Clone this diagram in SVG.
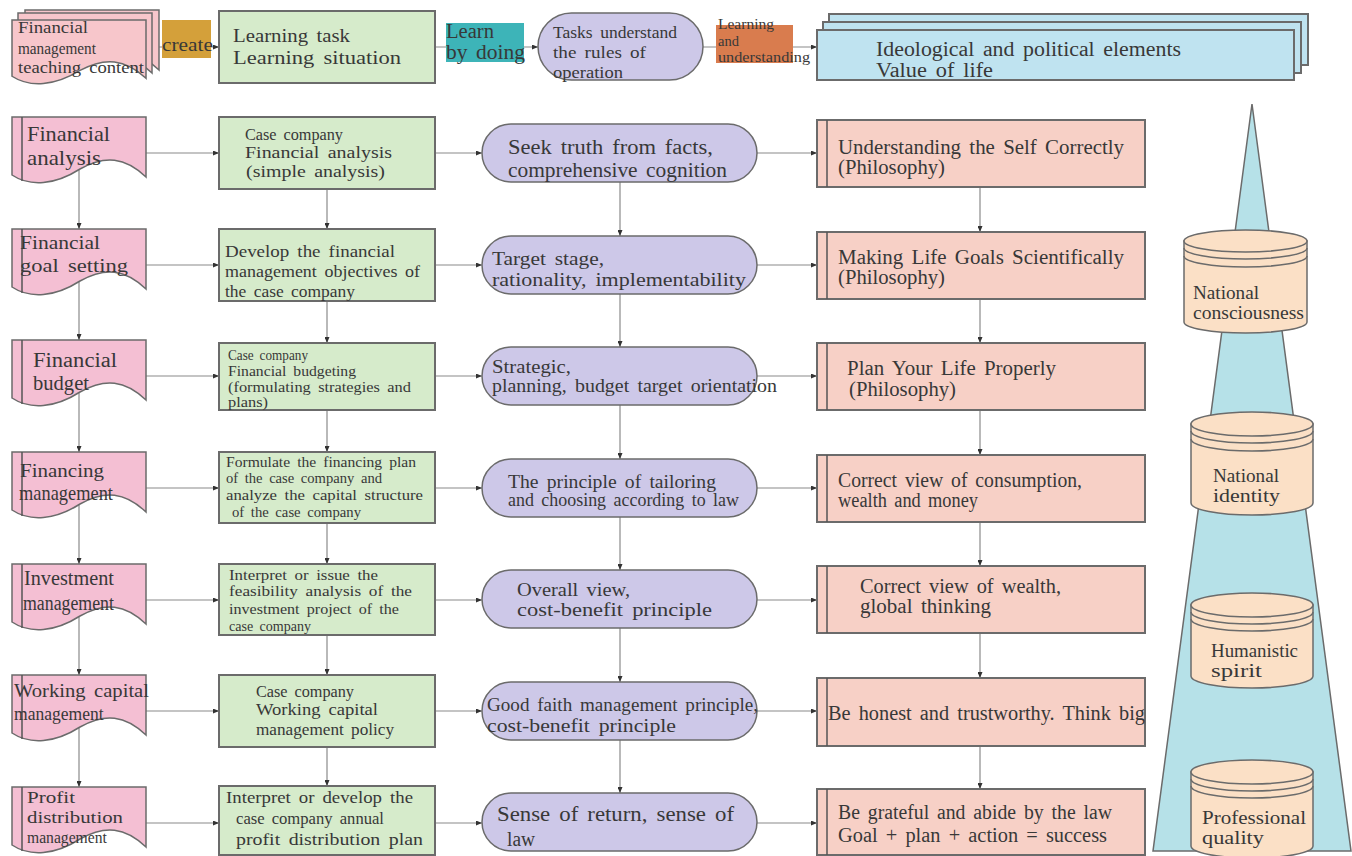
<svg xmlns="http://www.w3.org/2000/svg" width="1352" height="856" viewBox="0 0 1352 856">
<defs>
<marker id="a" markerWidth="6" markerHeight="5" refX="6" refY="2.5" orient="auto" markerUnits="userSpaceOnUse"><path d="M0,0 L6,2.5 L0,5 z" fill="#333"/></marker>
<path id="docshape" d="M0,0 H134 V60 C113,40 93,38 68,52 C43,68 18,70 0,58 Z"/>
</defs>
<style>
.doc{fill:#F4BFD3;stroke:#6b6b6b;stroke-width:1.5}
.doct{fill:#F7C6CB;stroke:#6b6b6b;stroke-width:1.5}
.g{fill:#D6EBCB;stroke:#6b6b6b;stroke-width:2}
.p{fill:#CDC8E8;stroke:#6b6b6b;stroke-width:1.5}
.s{fill:#F7D0C6;stroke:#6b6b6b;stroke-width:2}
.bl{fill:#BFE3F0;stroke:#6b6b6b;stroke-width:2}
.cyl{fill:#FBE0C6;stroke:#6b6b6b;stroke-width:1.5}
.ring{fill:none;stroke:#6b6b6b;stroke-width:1.5}
.in{stroke:#555;stroke-width:1.5;fill:none}
.c{stroke:#8a8a8a;stroke-width:1.2;fill:none;marker-end:url(#a)}
text{font-family:"Liberation Serif",serif;fill:#383838;word-spacing:3px}
</style>
<rect width="1352" height="856" fill="#fff"/>

<g id="cone"><polygon points="1252,104 1351,851 1153,851" fill="#B6E1E8" stroke="#6b6b6b" stroke-width="1.5"/></g>

<g id="connectors">
<path class="c" d="M146,47 H219"/>
<path class="c" d="M435,47 H538"/>
<path class="c" d="M703,47 H817"/>
<path class="c" d="M146,153 H219"/><path class="c" d="M435,153 H482"/><path class="c" d="M757,153 H817"/>
<path class="c" d="M146,265 H219"/><path class="c" d="M435,265 H482"/><path class="c" d="M757,265 H817"/>
<path class="c" d="M146,376 H219"/><path class="c" d="M435,376 H482"/><path class="c" d="M757,376 H817"/>
<path class="c" d="M146,488 H219"/><path class="c" d="M435,488 H482"/><path class="c" d="M757,488 H817"/>
<path class="c" d="M146,600 H219"/><path class="c" d="M435,600 H482"/><path class="c" d="M757,600 H817"/>
<path class="c" d="M146,711 H219"/><path class="c" d="M435,711 H482"/><path class="c" d="M757,711 H817"/>
<path class="c" d="M146,823 H219"/><path class="c" d="M435,823 H482"/><path class="c" d="M757,823 H817"/>
<path class="c" d="M79,167 V229"/><path class="c" d="M79,279 V340"/><path class="c" d="M79,390 V452"/><path class="c" d="M79,502 V564"/><path class="c" d="M79,614 V675"/><path class="c" d="M79,725 V787"/>
<path class="c" d="M327,189 V229"/><path class="c" d="M327,301 V343"/><path class="c" d="M327,410 V452"/><path class="c" d="M327,523 V564"/><path class="c" d="M327,635 V675"/><path class="c" d="M327,747 V786"/>
<path class="c" d="M620,182 V236"/><path class="c" d="M620,294 V347"/><path class="c" d="M620,405 V459"/><path class="c" d="M620,517 V570"/><path class="c" d="M620,628 V682"/><path class="c" d="M620,740 V793"/>
<path class="c" d="M980,187 V232"/><path class="c" d="M980,299 V343"/><path class="c" d="M980,410 V455"/><path class="c" d="M980,522 V566"/><path class="c" d="M980,633 V678"/><path class="c" d="M980,746 V789"/>
</g>

<g id="top-doc">
<use href="#docshape" class="doct" transform="translate(25,10)"/>
<use href="#docshape" class="doct" transform="translate(18,13)"/>
<use href="#docshape" class="doct" transform="translate(12,20) scale(1,0.97)"/>
<text x="18" y="33" font-size="16.5" textLength="70" lengthAdjust="spacingAndGlyphs">Financial</text>
<text transform="translate(18,54) scale(0.925,1)" font-size="16.5">management</text>
<text x="18" y="73" font-size="16.5" textLength="126" lengthAdjust="spacingAndGlyphs">teaching content</text>
</g>
<g id="lbl-create"><rect x="162" y="20" width="49" height="38" fill="#D4A03A"/>
<text x="162" y="51" font-size="18" textLength="51" lengthAdjust="spacingAndGlyphs">create</text></g>
<g id="top-task"><rect class="g" x="219" y="11" width="216" height="72"/>
<text x="233" y="42" font-size="19.5" textLength="117" lengthAdjust="spacingAndGlyphs">Learning task</text>
<text x="233" y="64" font-size="19.5" textLength="168" lengthAdjust="spacingAndGlyphs">Learning situation</text></g>
<g id="lbl-learn"><rect x="446" y="23" width="78" height="39" fill="#3DB4B8"/>
<text x="446" y="38" font-size="20" textLength="48" lengthAdjust="spacingAndGlyphs">Learn</text>
<text x="446" y="59" font-size="20" textLength="79" lengthAdjust="spacingAndGlyphs">by doing</text></g>
<g id="top-rules"><rect class="p" x="538" y="13" width="165" height="67" rx="33.5"/>
<text x="553" y="38" font-size="16.8" textLength="124" lengthAdjust="spacingAndGlyphs">Tasks understand</text>
<text x="553" y="58" font-size="16.8" textLength="93" lengthAdjust="spacingAndGlyphs">the rules of</text>
<text x="553" y="78" font-size="16.8" textLength="70" lengthAdjust="spacingAndGlyphs">operation</text></g>
<g id="lbl-understand"><rect x="716" y="25" width="77" height="38" fill="#D97C4E"/>
<text x="718" y="29" font-size="15" textLength="56" lengthAdjust="spacingAndGlyphs">Learning</text>
<text x="718" y="46" font-size="15" textLength="21" lengthAdjust="spacingAndGlyphs">and</text>
<text x="718" y="62" font-size="15" textLength="92" lengthAdjust="spacingAndGlyphs">understanding</text></g>
<g id="top-values">
<rect class="bl" x="829" y="14" width="479" height="51"/>
<rect class="bl" x="823" y="22" width="478" height="51"/>
<rect class="bl" x="817" y="30" width="477" height="50"/>
<text x="876" y="56" font-size="20.5" textLength="305" lengthAdjust="spacingAndGlyphs">Ideological and political elements</text>
<text x="876" y="77" font-size="20.5" textLength="117" lengthAdjust="spacingAndGlyphs">Value of life</text></g>

<g id="d1"><use href="#docshape" class="doc" transform="translate(12,117)"/><path class="in" d="M22,117 V181"/>
<text x="27" y="141" font-size="21" textLength="83" lengthAdjust="spacingAndGlyphs">Financial</text>
<text x="27" y="165" font-size="21" textLength="74" lengthAdjust="spacingAndGlyphs">analysis</text></g>
<g id="d2"><use href="#docshape" class="doc" transform="translate(12,229)"/><path class="in" d="M22,229 V293"/>
<text x="20" y="249" font-size="19.5" textLength="80" lengthAdjust="spacingAndGlyphs">Financial</text>
<text x="20" y="272" font-size="19.5" textLength="108" lengthAdjust="spacingAndGlyphs">goal setting</text></g>
<g id="d3"><use href="#docshape" class="doc" transform="translate(12,340)"/><path class="in" d="M22,340 V404"/>
<text x="33" y="367" font-size="20" textLength="84" lengthAdjust="spacingAndGlyphs">Financial</text>
<text x="33" y="390" font-size="20" textLength="56" lengthAdjust="spacingAndGlyphs">budget</text></g>
<g id="d4"><use href="#docshape" class="doc" transform="translate(12,452)"/><path class="in" d="M22,452 V516"/>
<text x="20" y="477" font-size="19" textLength="84" lengthAdjust="spacingAndGlyphs">Financing</text>
<text transform="translate(19,500) scale(0.92,1)" font-size="20">management</text></g>
<g id="d5"><use href="#docshape" class="doc" transform="translate(12,564)"/><path class="in" d="M22,564 V628"/>
<text x="24" y="585" font-size="20" textLength="90" lengthAdjust="spacingAndGlyphs">Investment</text>
<text transform="translate(23,610) scale(0.89,1)" font-size="20">management</text></g>
<g id="d6"><use href="#docshape" class="doc" transform="translate(12,675)"/><path class="in" d="M22,675 V739"/>
<text x="14" y="697" font-size="19" textLength="135" lengthAdjust="spacingAndGlyphs">Working capital</text>
<text transform="translate(14,720) scale(0.9,1)" font-size="19.5">management</text></g>
<g id="d7"><use href="#docshape" class="doc" transform="translate(12,787)"/><path class="in" d="M22,787 V851"/>
<text x="27" y="803" font-size="17" textLength="48" lengthAdjust="spacingAndGlyphs">Profit</text>
<text x="27" y="823" font-size="17" textLength="96" lengthAdjust="spacingAndGlyphs">distribution</text>
<text transform="translate(27,843) scale(0.92,1)" font-size="17">management</text></g>

<g id="g1"><rect class="g" x="219" y="117" width="216" height="72"/>
<text x="245" y="140" font-size="17.4" textLength="98" lengthAdjust="spacingAndGlyphs">Case company</text>
<text x="245" y="158" font-size="17.4" textLength="147" lengthAdjust="spacingAndGlyphs">Financial analysis</text>
<text x="246" y="177" font-size="17.4" textLength="139" lengthAdjust="spacingAndGlyphs">(simple analysis)</text></g>
<g id="g2"><rect class="g" x="219" y="229" width="216" height="72"/>
<text x="225" y="257" font-size="17.2" textLength="170" lengthAdjust="spacingAndGlyphs">Develop the financial</text>
<text x="225" y="277" font-size="17.2" textLength="195" lengthAdjust="spacingAndGlyphs">management objectives of</text>
<text x="225" y="297" font-size="17.2" textLength="130" lengthAdjust="spacingAndGlyphs">the case company</text></g>
<g id="g3"><rect class="g" x="219" y="343" width="216" height="67"/>
<text x="228" y="360" font-size="15" textLength="80" lengthAdjust="spacingAndGlyphs">Case company</text>
<text x="228" y="376" font-size="15" textLength="128" lengthAdjust="spacingAndGlyphs">Financial budgeting</text>
<text x="228" y="392" font-size="15" textLength="183" lengthAdjust="spacingAndGlyphs">(formulating strategies and</text>
<text x="228" y="407" font-size="15" textLength="40" lengthAdjust="spacingAndGlyphs">plans)</text></g>
<g id="g4"><rect class="g" x="219" y="452" width="216" height="71"/>
<text x="226" y="467" font-size="15" textLength="190" lengthAdjust="spacingAndGlyphs">Formulate the financing plan</text>
<text x="226" y="483" font-size="15" textLength="156" lengthAdjust="spacingAndGlyphs">of the case company and</text>
<text x="226" y="500" font-size="15" textLength="197" lengthAdjust="spacingAndGlyphs">analyze the capital structure</text>
<text x="232" y="517" font-size="15" textLength="129" lengthAdjust="spacingAndGlyphs">of the case company</text></g>
<g id="g5"><rect class="g" x="219" y="564" width="216" height="71"/>
<text x="229" y="580" font-size="15" textLength="149" lengthAdjust="spacingAndGlyphs">Interpret or issue the</text>
<text x="229" y="596" font-size="15" textLength="183" lengthAdjust="spacingAndGlyphs">feasibility analysis of the</text>
<text x="229" y="614" font-size="15" textLength="170" lengthAdjust="spacingAndGlyphs">investment project of the</text>
<text x="229" y="631" font-size="15" textLength="82" lengthAdjust="spacingAndGlyphs">case company</text></g>
<g id="g6"><rect class="g" x="219" y="675" width="216" height="72"/>
<text x="256" y="697" font-size="17.3" textLength="98" lengthAdjust="spacingAndGlyphs">Case company</text>
<text x="256" y="715" font-size="17.3" textLength="122" lengthAdjust="spacingAndGlyphs">Working capital</text>
<text x="256" y="735" font-size="17.3" textLength="138" lengthAdjust="spacingAndGlyphs">management policy</text></g>
<g id="g7"><rect class="g" x="219" y="786" width="216" height="69"/>
<text x="226" y="803" font-size="17" textLength="187" lengthAdjust="spacingAndGlyphs">Interpret or develop the</text>
<text x="236" y="824" font-size="17" textLength="148" lengthAdjust="spacingAndGlyphs">case company annual</text>
<text x="236" y="845" font-size="17" textLength="187" lengthAdjust="spacingAndGlyphs">profit distribution plan</text></g>

<g id="p1"><rect class="p" x="482" y="124" width="275" height="58" rx="29"/>
<text x="508" y="154" font-size="20.5" textLength="205" lengthAdjust="spacingAndGlyphs">Seek truth from facts,</text>
<text x="508" y="177" font-size="20.5" textLength="219" lengthAdjust="spacingAndGlyphs">comprehensive cognition</text></g>
<g id="p2"><rect class="p" x="482" y="236" width="275" height="58" rx="29"/>
<text x="492" y="265" font-size="19.5" textLength="112" lengthAdjust="spacingAndGlyphs">Target stage,</text>
<text x="492" y="286" font-size="19.5" textLength="254" lengthAdjust="spacingAndGlyphs">rationality, implementability</text></g>
<g id="p3"><rect class="p" x="482" y="347" width="275" height="58" rx="29"/>
<text x="492" y="373" font-size="18" textLength="79" lengthAdjust="spacingAndGlyphs">Strategic,</text>
<text x="492" y="392" font-size="18" textLength="285" lengthAdjust="spacingAndGlyphs">planning, budget target orientation</text></g>
<g id="p4"><rect class="p" x="482" y="459" width="275" height="58" rx="29"/>
<text x="508" y="488" font-size="18" textLength="208" lengthAdjust="spacingAndGlyphs">The principle of tailoring</text>
<text x="508" y="506" font-size="18" textLength="231" lengthAdjust="spacingAndGlyphs">and choosing according to law</text></g>
<g id="p5"><rect class="p" x="482" y="570" width="275" height="58" rx="29"/>
<text x="517" y="596" font-size="19.5" textLength="113" lengthAdjust="spacingAndGlyphs">Overall view,</text>
<text x="517" y="616" font-size="19.5" textLength="195" lengthAdjust="spacingAndGlyphs">cost-benefit principle</text></g>
<g id="p6"><rect class="p" x="482" y="682" width="275" height="58" rx="29"/>
<text x="487" y="711" font-size="19" textLength="271" lengthAdjust="spacingAndGlyphs">Good faith management principle,</text>
<text x="487" y="732" font-size="19" textLength="189" lengthAdjust="spacingAndGlyphs">cost-benefit principle</text></g>
<g id="p7"><rect class="p" x="482" y="793" width="275" height="58" rx="29"/>
<text x="497" y="821" font-size="20.5" textLength="237" lengthAdjust="spacingAndGlyphs">Sense of return, sense of</text>
<text x="507" y="846" font-size="20.5" textLength="28" lengthAdjust="spacingAndGlyphs">law</text></g>

<g id="s1"><rect class="s" x="817" y="120" width="328" height="67"/><path class="in" d="M827,120 V187"/>
<text x="838" y="154" font-size="20.5" textLength="286" lengthAdjust="spacingAndGlyphs">Understanding the Self Correctly</text>
<text x="838" y="174" font-size="20.5" textLength="107" lengthAdjust="spacingAndGlyphs">(Philosophy)</text></g>
<g id="s2"><rect class="s" x="817" y="232" width="328" height="67"/><path class="in" d="M827,232 V299"/>
<text x="838" y="264" font-size="20.5" textLength="286" lengthAdjust="spacingAndGlyphs">Making Life Goals Scientifically</text>
<text x="838" y="284" font-size="20.5" textLength="107" lengthAdjust="spacingAndGlyphs">(Philosophy)</text></g>
<g id="s3"><rect class="s" x="817" y="343" width="328" height="67"/><path class="in" d="M827,343 V410"/>
<text x="847" y="375" font-size="20.5" textLength="209" lengthAdjust="spacingAndGlyphs">Plan Your Life Properly</text>
<text x="849" y="396" font-size="20.5" textLength="107" lengthAdjust="spacingAndGlyphs">(Philosophy)</text></g>
<g id="s4"><rect class="s" x="817" y="455" width="328" height="67"/><path class="in" d="M827,455 V522"/>
<text x="838" y="487" font-size="20" textLength="244" lengthAdjust="spacingAndGlyphs">Correct view of consumption,</text>
<text x="838" y="507" font-size="20" textLength="140" lengthAdjust="spacingAndGlyphs">wealth and money</text></g>
<g id="s5"><rect class="s" x="817" y="566" width="328" height="67"/><path class="in" d="M827,566 V633"/>
<text x="860" y="593" font-size="20" textLength="201" lengthAdjust="spacingAndGlyphs">Correct view of wealth,</text>
<text x="860" y="613" font-size="20" textLength="131" lengthAdjust="spacingAndGlyphs">global thinking</text></g>
<g id="s6"><rect class="s" x="817" y="678" width="328" height="68"/><path class="in" d="M827,678 V746"/>
<text x="828" y="720" font-size="20" textLength="317" lengthAdjust="spacingAndGlyphs">Be honest and trustworthy. Think big</text></g>
<g id="s7"><rect class="s" x="817" y="789" width="328" height="66"/><path class="in" d="M827,789 V855"/>
<text x="838" y="819" font-size="20" textLength="274" lengthAdjust="spacingAndGlyphs">Be grateful and abide by the law</text>
<text x="838" y="842" font-size="20" textLength="269" lengthAdjust="spacingAndGlyphs">Goal + plan + action = success</text></g>

<g id="cy1">
<path class="cyl" d="M1184,241 V322 A61.5,11 0 0 0 1307,322 V241 Z"/>
<ellipse class="cyl" cx="1245.5" cy="241" rx="61.5" ry="11"/>
<path class="ring" d="M1184,248 A61.5,11 0 0 0 1307,248 M1184,256 A61.5,11 0 0 0 1307,256"/>
<text x="1193" y="299" font-size="19.5" textLength="66" lengthAdjust="spacingAndGlyphs">National</text>
<text x="1193" y="319" font-size="19.5" textLength="111" lengthAdjust="spacingAndGlyphs">consciousness</text></g>
<g id="cy2">
<path class="cyl" d="M1191,424 V503 A61,12 0 0 0 1313,503 V424 Z"/>
<ellipse class="cyl" cx="1252" cy="424" rx="61" ry="12"/>
<path class="ring" d="M1191,431 A61,12 0 0 0 1313,431 M1191,439 A61,12 0 0 0 1313,439"/>
<text x="1213" y="482" font-size="19.5" textLength="66" lengthAdjust="spacingAndGlyphs">National</text>
<text x="1213" y="502" font-size="19.5" textLength="67" lengthAdjust="spacingAndGlyphs">identity</text></g>
<g id="cy3">
<path class="cyl" d="M1191,605 V676 A61,12 0 0 0 1313,676 V605 Z"/>
<ellipse class="cyl" cx="1252" cy="605" rx="61" ry="12"/>
<path class="ring" d="M1191,612 A61,12 0 0 0 1313,612 M1191,619 A61,12 0 0 0 1313,619"/>
<text x="1211" y="657" font-size="19.5" textLength="87" lengthAdjust="spacingAndGlyphs">Humanistic</text>
<text x="1211" y="677" font-size="19.5" textLength="51" lengthAdjust="spacingAndGlyphs">spirit</text></g>
<g id="cy4">
<path class="cyl" d="M1191,772 V846 A61,12 0 0 0 1313,846 V772 Z"/>
<ellipse class="cyl" cx="1252" cy="772" rx="61" ry="12"/>
<path class="ring" d="M1191,779 A61,12 0 0 0 1313,779 M1191,786 A61,12 0 0 0 1313,786"/>
<text x="1202" y="824" font-size="19.5" textLength="104" lengthAdjust="spacingAndGlyphs">Professional</text>
<text x="1202" y="844" font-size="19.5" textLength="62" lengthAdjust="spacingAndGlyphs">quality</text></g>
</svg>
